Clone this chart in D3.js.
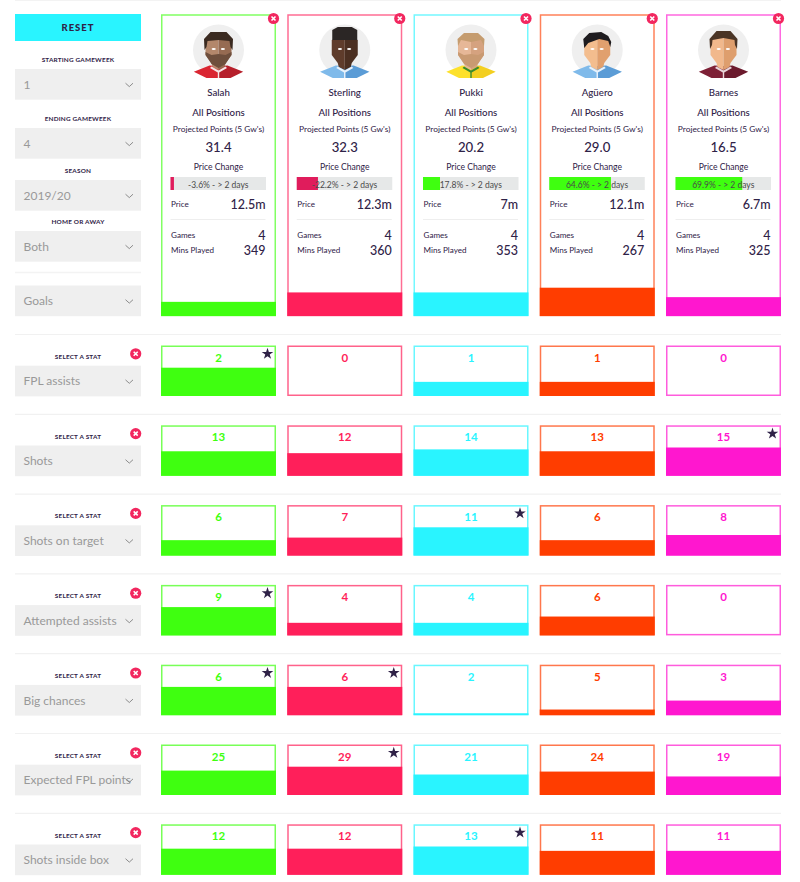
<!DOCTYPE html>
<html>
<head>
<meta charset="utf-8">
<script src="https://cdnjs.cloudflare.com/ajax/libs/d3/7.8.5/d3.min.js"></script>
<style>
  html, body { margin: 0; padding: 0; background: #fff; }
  svg { display: block; }
  text { font-family: Lato, "Open Sans", sans-serif; fill: #2f2247; }
  .small-label { font-size: 6.4px; font-weight: 700; letter-spacing: .2px; text-anchor: middle; }
  .select-text { font-size: 12px; fill: #999; }
</style>
</head>
<body>
<svg id="chart" width="800" height="882"></svg>
<script>
// values
const players = ["Salah", "Sterling", "Pukki", "Agüero", "Barnes"];
const colors = ["#3fff10", "#ff1f5a", "#29f4ff", "#ff3d00", "#ff17cf"];
const projected = ["31.4", "32.3", "20.2", "29.0", "16.5"];
const priceChange = [-3.6, -22.2, 17.8, 64.6, 69.9];
const prices = ["12.5m", "12.3m", "7m", "12.1m", "6.7m"];
const games = [4, 4, 4, 4, 4];
const minsPlayed = [349, 360, 353, 267, 325];
const goals = [3, 5, 5, 6, 4];

const statNames = ["FPL assists", "Shots", "Shots on target", "Attempted assists",
  "Big chances", "Expected FPL points", "Shots inside box"];
const fplAssists = [2, 0, 1, 1, 0];
const shots = [13, 12, 14, 13, 15];
const shotsOnTarget = [6, 7, 11, 6, 8];
const attemptedAssists = [9, 4, 4, 6, 0];
const bigChances = [6, 6, 2, 5, 3];
const expectedPoints = [25, 29, 21, 24, 19];
const shotsInBox = [12, 12, 13, 11, 11];
const statValues = [fplAssists, shots, shotsOnTarget, attemptedAssists, bigChances, expectedPoints, shotsInBox];

// the big chances bars do not follow their rounded labels in the picture
const bigChancesBars = [6, 6, 0.4, 1.2, 3.1];
const statBars = [fplAssists, shots, shotsOnTarget, attemptedAssists, bigChancesBars, expectedPoints, shotsInBox];

const filters = [
  { label: "STARTING GAMEWEEK", value: "1", top: 69 },
  { label: "ENDING GAMEWEEK", value: "4", top: 128 },
  { label: "SEASON", value: "2019/20", top: 180 },
  { label: "HOME OR AWAY", value: "Both", top: 231 }
];

const avatars = [
  { skin: "#b3876b", shade: "#966b52", hair: "#3a2a20", shirt: "#da2632", shirtShade: "#b61f2b", beard: "#6e4f3d", collar: "#f5e6e6",
    hairPath: "M-14,0 L-14.5,-11 L-8,-18 L8,-18 L14.5,-11 L14,0 L12,-3 L11,-9 L0,-10 L-11,-9 L-12,-3 Z" },
  { skin: "#5f3c2b", shade: "#4b2f21", hair: "#2b2625", shirt: "#7fbaea", shirtShade: "#5b9cd6", beard: null, collar: "#e8f2fb",
    hairPath: "M-12.5,-10 L-12.5,-20 L-7,-23 L7,-23 L12.5,-20 L12.5,-10 Z" },
  { skin: "#e6b797", shade: "#d5a27f", hair: "#c59c6f", shirt: "#fde12c", shirtShade: "#f3cf20", beard: "#c99a72", collar: "#3a8a2f",
    hairPath: "M-13,-4 L-13.5,-11 L-7,-17 L7,-17 L13.5,-11 L13,-4 L10,-10 L0,-8 L-10,-10 Z" },
  { skin: "#f3bd8e", shade: "#e1a06e", hair: "#1e1c1f", shirt: "#7fbaea", shirtShade: "#5b9cd6", beard: null, collar: "#e8f2fb",
    hairPath: "M-13,-2 L-14,-11 L-8,-17 L4,-18 L11,-14 L14,-8 L13,-3 L11,-9 L2,-11 L-9,-7 Z" },
  { skin: "#f1b88c", shade: "#de9e6d", hair: "#4a3425", shirt: "#7d2036", shirtShade: "#6b1a2d", beard: null, collar: "#e9d5d8",
    hairPath: "M-13.5,-1 L-14,-11 L-7,-19 L7,-19 L14,-11 L13.5,-1 L11.5,-5 L11,-10 L0,-12 L-11,-10 L-11.5,-5 Z" }
];

const boxWidth = 115;
const boxHeight = 50.5;
const maxFill = 28.3;
const trackWidth = 95.5;
const ink = "#2f2247";

const svg = d3.select("#chart");

// one scale per layout direction, plus the bar scales
const colX = d3.scaleLinear().domain([0, 4]).range([161, 666]);
const rowY = d3.scaleLinear().domain([0, 6]).range([345.5, 824.3]);
const priceScale = d3.scaleLinear().domain([0, 100]).range([0, trackWidth]);

function drawSelect(g, value, top) {
  g.append("rect")
    .attr("x", 15).attr("y", top)
    .attr("width", 126).attr("height", 30.7)
    .attr("fill", "#efefef");
  g.append("text")
    .attr("class", "select-text")
    .attr("x", 23.5).attr("y", top + 19.7)
    .text(value);
  g.append("path")
    .attr("d", d3.line()([[125.5, top + 14.2], [129.3, top + 17.6], [133, top + 14.2]]))
    .attr("fill", "none")
    .attr("stroke", "#808080")
    .attr("stroke-width", 0.9);
}

function drawClose(g, cx, cy) {
  g.append("circle")
    .attr("cx", cx).attr("cy", cy).attr("r", 5.6)
    .attr("fill", "#f2275f");
  g.append("path")
    .attr("d", `M${cx - 2},${cy - 2}L${cx + 2},${cy + 2}M${cx + 2},${cy - 2}L${cx - 2},${cy + 2}`)
    .attr("stroke", "#fff")
    .attr("stroke-width", 1.6);
}

function drawAvatar(g, a, cx) {
  const face = g.append("g").attr("transform", `translate(${cx},50)`);
  face.append("circle").attr("r", 25.5).attr("fill", "#efefef");

  // shirt halves
  face.append("path").attr("d", "M0,16 L-9,15.5 L-24.7,21.7 L-12,28 L0,28 Z").attr("fill", a.shirt);
  face.append("path").attr("d", "M0,16 L9,15.5 L24.7,21.7 L12,28 L0,28 Z").attr("fill", a.shirtShade);

  // neck and head, right half is darker
  face.append("path").attr("d", "M0,20 L-6,17 L-7,13 L-13,5 L-13,-10 L0,-15 Z").attr("fill", a.skin);
  face.append("path").attr("d", "M0,20 L6,17 L7,13 L13,5 L13,-10 L0,-15 Z").attr("fill", a.shade);
  if (a.beard) {
    face.append("path").attr("d", "M-13,2 L-7,5 L0,4 L7,5 L13,2 L13,5 L7,14 L0,18 L-7,14 L-13,5 Z").attr("fill", a.beard);
  }
  face.append("path").attr("d", a.hairPath).attr("fill", a.hair);

  // collar
  face.append("path")
    .attr("d", "M-7,16.5 L0,20.5 L7,16.5 L8.5,18 L0.7,22.5 L0.7,28 L-0.7,28 L-0.7,22.5 L-8.5,18 Z")
    .attr("fill", a.collar);

  face.selectAll("ellipse")
    .data([-4.8, 4.4])
    .enter()
    .append("ellipse")
    .attr("cx", d => d).attr("cy", -1)
    .attr("rx", 2.1).attr("ry", 1)
    .attr("fill", "#fff");
}

// faint rule along the top edge
svg.append("line")
  .attr("x1", 15).attr("x2", 781).attr("y1", 0.5).attr("y2", 0.5)
  .attr("stroke", "#f3f3f3");

// left column
svg.append("rect")
  .attr("x", 15).attr("y", 14)
  .attr("width", 126).attr("height", 27)
  .attr("fill", "#29f4ff");
svg.append("text")
  .attr("x", 78).attr("y", 31)
  .attr("text-anchor", "middle")
  .attr("font-size", 9.5)
  .attr("font-weight", 900)
  .attr("letter-spacing", 1)
  .text("RESET");

filters.forEach(f => {
  svg.append("text")
    .attr("class", "small-label")
    .attr("x", 78).attr("y", f.top - 6.8)
    .text(f.label);
  drawSelect(svg, f.value, f.top);
});

svg.append("line")
  .attr("x1", 15).attr("x2", 141).attr("y1", 272.5).attr("y2", 272.5)
  .attr("stroke", "#f3f3f3").attr("stroke-width", 1.3);
drawSelect(svg, "Goals", 285.5);

// player cards
const goalBar = d3.scaleLinear().domain([0, d3.max(goals)]).range([0, maxFill]);

players.forEach((name, i) => {
  const x = colX(i);
  const cx = x + boxWidth / 2;
  const left = x + 9.5;
  const right = x + 104.5;
  const card = svg.append("g");
  const fillH = goalBar(goals[i]);

  card.append("rect")
    .attr("x", x + 0.75).attr("y", 15)
    .attr("width", boxWidth - 1.5).attr("height", 300.5)
    .attr("fill", "#fff")
    .attr("stroke", colors[i])
    .attr("stroke-opacity", 0.65)
    .attr("stroke-width", 1.5);
  card.append("rect")
    .attr("x", x).attr("y", 316 - fillH)
    .attr("width", boxWidth).attr("height", fillH)
    .attr("fill", colors[i]);

  drawClose(card, x + 112.5, 18.5);
  drawAvatar(card, avatars[i], cx);

  const centred = [
    { t: name, y: 96, s: 9.7, w: 500 },
    { t: "All Positions", y: 116, s: 9.7, w: 500 },
    { t: "Projected Points (5 Gw's)", y: 132, s: 8.4, w: 400 },
    { t: projected[i], y: 152.3, s: 13.2, w: 500 },
    { t: "Price Change", y: 170, s: 8.6, w: 400 }
  ];
  card.selectAll("text.centred")
    .data(centred)
    .enter()
    .append("text")
    .attr("class", "centred")
    .attr("x", cx)
    .attr("y", d => d.y)
    .attr("text-anchor", "middle")
    .attr("font-size", d => d.s)
    .attr("font-weight", d => d.w)
    .text(d => d.t);

  // price change track
  const change = priceChange[i];
  card.append("rect")
    .attr("x", left).attr("y", 177)
    .attr("width", trackWidth).attr("height", 13)
    .attr("fill", "#e6e8e8");
  card.append("rect")
    .attr("x", left).attr("y", 177)
    .attr("width", priceScale(Math.abs(change))).attr("height", 13)
    .attr("fill", change < 0 ? "#e01c5c" : colors[0]);
  card.append("text")
    .attr("x", left + trackWidth / 2).attr("y", 187.7)
    .attr("text-anchor", "middle")
    .attr("font-size", 8.5)
    .style("fill", "#4a4a4a")
    .text(`${change}% - > 2 days`);

  const lines = [
    { label: "Price", value: prices[i], y: 209, ly: 207 },
    { label: "Games", value: games[i], y: 239.5, ly: 237.7 },
    { label: "Mins Played", value: minsPlayed[i], y: 255, ly: 253.3 }
  ];
  lines.forEach(d => {
    card.append("text")
      .attr("x", left + 0.5).attr("y", d.ly)
      .attr("font-size", 8.1)
      .text(d.label);
    card.append("text")
      .attr("x", right).attr("y", d.y)
      .attr("text-anchor", "end")
      .attr("font-size", 12.5)
      .attr("font-weight", 500)
      .text(d.value);
  });

  card.append("line")
    .attr("x1", left).attr("x2", right)
    .attr("y1", 219.5).attr("y2", 219.5)
    .attr("stroke", "#eeeeee");
});

// stat rows
statNames.forEach((stat, r) => {
  const top = rowY(r);
  const row = svg.append("g");
  const values = statValues[r];
  const bars = statBars[r];
  const best = d3.max(values);
  const barH = d3.scaleLinear().domain([0, d3.max(bars)]).range([0, maxFill]);

  row.append("line")
    .attr("x1", 15).attr("x2", 781)
    .attr("y1", top - 11).attr("y2", top - 11)
    .attr("stroke", "#f1f1f1")
    .attr("stroke-width", 1.2);

  row.append("text")
    .attr("class", "small-label")
    .attr("x", 78).attr("y", top + 13.2)
    .text("SELECT A STAT");
  drawClose(row, 135.7, top + 8.3);
  drawSelect(row, stat, top + 20.2);

  const cell = row.selectAll("g.cell")
    .data(values)
    .enter()
    .append("g")
    .attr("class", "cell")
    .attr("transform", (d, i) => `translate(${colX(i)},${top})`);

  cell.append("rect")
    .attr("x", 0.75).attr("y", 0.75)
    .attr("width", boxWidth - 1.5).attr("height", boxHeight - 1.5)
    .attr("fill", "#fff")
    .attr("stroke", (d, i) => colors[i])
    .attr("stroke-opacity", 0.7)
    .attr("stroke-width", 1.5);

  cell.append("rect")
    .attr("x", 0)
    .attr("y", (d, i) => boxHeight - barH(bars[i]))
    .attr("width", boxWidth)
    .attr("height", (d, i) => barH(bars[i]))
    .attr("fill", (d, i) => colors[i]);

  cell.append("text")
    .attr("x", boxWidth / 2).attr("y", 16)
    .attr("text-anchor", "middle")
    .attr("font-size", 11.5)
    .attr("font-weight", 700)
    .style("fill", (d, i) => colors[i])
    .text(d => d);

  // star marks the best value of the row
  cell.filter(d => d === best)
    .append("path")
    .attr("d", d3.symbol().type(d3.symbolStar).size(42))
    .attr("transform", `translate(${boxWidth - 8.5},8.3)`)
    .attr("fill", ink);
});
</script>
</body>
</html>
